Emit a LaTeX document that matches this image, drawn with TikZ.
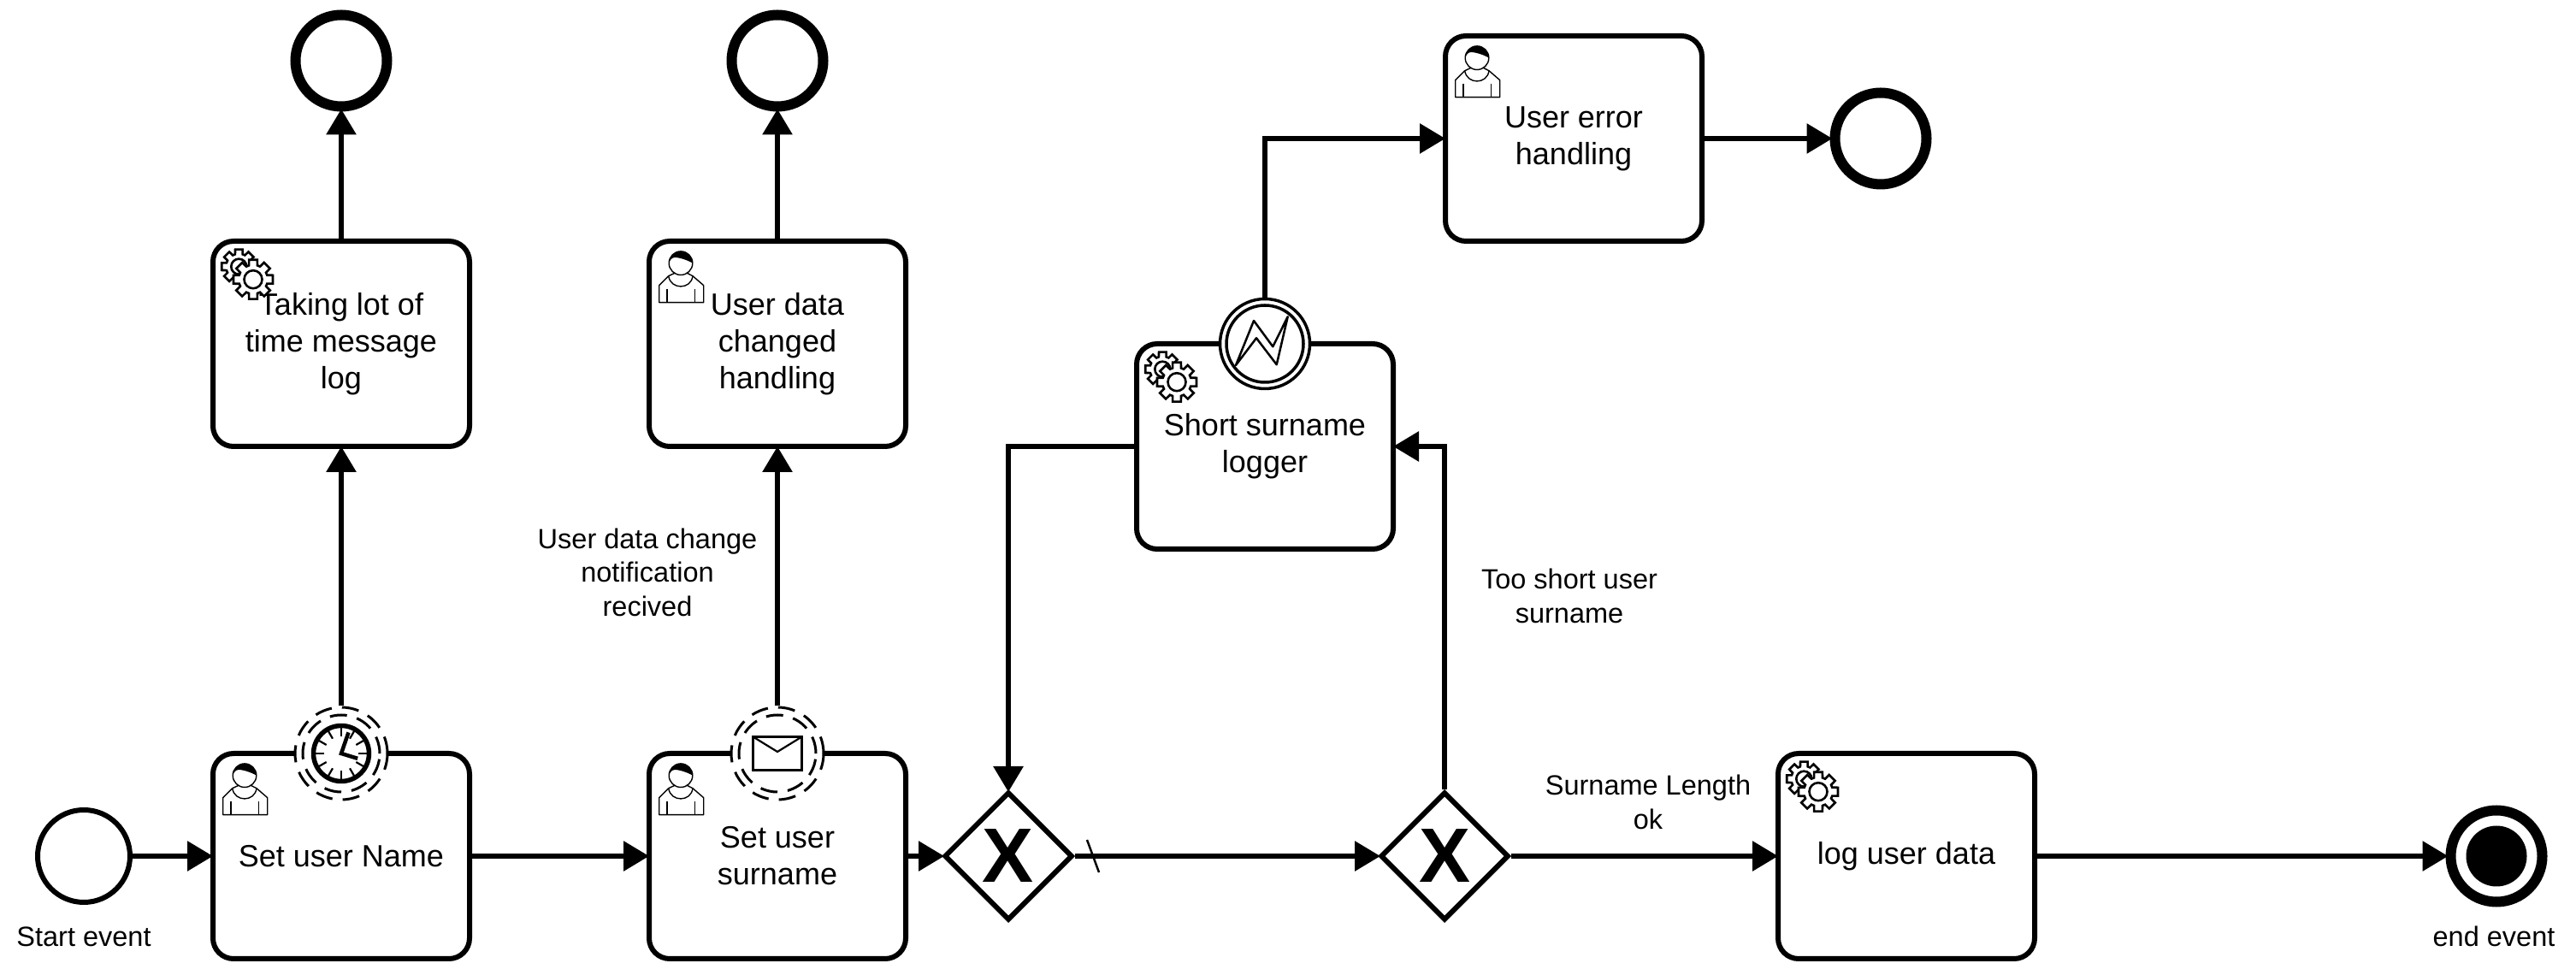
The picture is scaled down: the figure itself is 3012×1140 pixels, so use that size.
\documentclass[tikz,border=0pt]{standalone}
\usepackage{fontspec}
\setmainfont{Liberation Sans}
\usetikzlibrary{shapes.geometric, arrows.meta, positioning}
\tikzstyle{task} = [rectangle, rounded corners=24pt, minimum width=300pt, minimum height=240pt, text centered, align=center, draw=black, line width=6pt, fill=white, font=\fontsize{36}{43}\selectfont]
\tikzstyle{gateway} = [diamond, aspect=1, minimum width=150pt, minimum height=150pt, inner sep=0pt, draw=black, line width=6pt, fill=white, font=\fontsize{90}{90}\selectfont\bfseries]
\tikzstyle{startevent} = [circle, minimum size=108pt, inner sep=0pt, draw=black, line width=6pt, fill=white]
\tikzstyle{stopevent} = [circle, minimum size=107pt, inner sep=0pt, draw=black, line width=12pt, fill=white]
\tikzstyle{dot} = [circle, minimum size=71pt, inner sep=0pt, fill=black]
\tikzstyle{dashring} = [circle, minimum size=108pt, inner sep=0pt, draw=black, line width=3pt, fill=white, dash pattern=on 20pt off 12pt]
\tikzstyle{innerring} = [dashring, minimum size=90pt, fill=none]
\tikzstyle{errorring} = [circle, minimum size=105pt, inner sep=0pt, draw=black, line width=3.5pt, fill=white]
\tikzstyle{flowtext} = [text centered, align=center, font=\fontsize{32.5}{39.5}\selectfont]
\tikzstyle{arrow} = [line width=6pt, shorten >=-3pt, -{Triangle[length=30pt,width=34pt]}]
\tikzset{
  pics/usericon/.style={code={
    \draw [line width=1.4pt, fill=white, line join=round] (33,-40.3) -- (25.7,-43.7) -- (14.7,-54.7) -- (14.7,-74.7) -- (66.7,-74.7) -- (66.7,-54.7) -- (54,-43.7) -- (47.3,-40.3);
    \draw [line width=1.4pt] (25.7,-43.7) .. controls (28,-60) and (52,-60) .. (54,-43.7);
    \draw [line width=1.4pt] (24,-58.7) -- (24,-74.7) (56.7,-58.7) -- (56.7,-74.7);
    \draw [line width=1.4pt, fill=white] (40,-28.7) circle (13.8);
    \fill [black] (26.2,-28.7) arc (180:0:13.8) .. controls (48,-25) and (38,-22) .. (33,-22) .. controls (29,-22) and (27,-26) .. cycle;
  }},
  pics/gearicon/.style={code={
    \foreach \cx/\cy/\ro/\ri/\rh in {33.3/-32.7/20.5/15/9, 50/-47.7/23.5/17/10.5} {
      \draw [line width=2.6pt, fill=white, line join=miter, shift={(\cx,\cy)}] (-12:\ro)
        \foreach \a in {0,45,...,315} { -- ({\a-12}:\ro) -- ({\a+12}:\ro) -- ({\a+17}:\ri) -- ({\a+28}:\ri) } -- cycle;
      \draw [line width=2.6pt, fill=white, shift={(\cx,\cy)}] (0,0) circle (\rh);
    }
  }},
  pics/clockicon/.style={code={
    \draw [line width=5.5pt, fill=white] (0,0) circle (32.5);
    \foreach \a in {0,30,...,330} { \draw [line width=2.2pt] (\a:20) -- (\a:30); }
    \draw [line width=4.5pt] (71:26) -- (0,0) -- (-17:20);
  }},
  pics/mailicon/.style={code={
    \draw [line width=3.2pt] (-28.5,-19.5) rectangle (28.5,19.5);
    \draw [line width=2.2pt] (-28.5,19.5) -- (0,2) -- (28.5,19.5);
  }},
  pics/bolticon/.style={code={
    \draw [line width=2.5pt, line join=round] (-34,-25) -- (-13,27) -- (9.3,-3.3) -- (26.7,31.7) -- (13.7,-24.3) -- (-10,6.7) -- cycle;
  }}
}
\begin{document}
\begin{tikzpicture}[x=1pt, y=1pt, node distance=510pt]
	\useasboundingbox (0,0) rectangle (3012,1140);

	\node (setname) [task] at (399,139) {Set user Name};
	\node (setsurname) [task, right of=setname] {Set user\\surname};
	\node (logmsg) [task, above of=setname, yshift=89pt] {Taking lot of\\time message\\log};
	\node (datahandling) [task, right of=logmsg] {User data\\changed\\handling};
	\node (gwa) [gateway, right of=setsurname, xshift=-240pt] {X};
	\node (gwb) [gateway, right of=gwa] {X};
	\node (logdata) [task, right of=gwb, xshift=30pt] {log user data};
	\node (logger) [task, above of=gwa, xshift=300pt, yshift=-31pt] {Short surname\\logger};
	\node (errhandling) [task, right of=logger, xshift=-149pt, yshift=360pt] {User error\\handling};

	\node (begin) [startevent, left of=setname, xshift=209pt] {};
	\node (stopa) [stopevent, above of=logmsg, yshift=-179pt] {};
	\node (stopb) [stopevent, above of=datahandling, yshift=-179pt] {};
	\node (stopc) [stopevent, right of=errhandling, xshift=-151pt] {};
	\node (stopd) [stopevent, right of=logdata, xshift=180pt] {};
	\node (stopdot) [dot] at (stopd) {};

	\node (beginlabel) [flowtext, below of=begin, yshift=416pt] {Start event};
	\node (stoplabel) [flowtext, below of=stopd, xshift=-3pt, yshift=416pt] {end event};
	\node (datalabel) [flowtext, below of=datahandling, xshift=-152pt, yshift=243pt] {User data change\\notification\\recived};
	\node (shortlabel) [flowtext, right of=logger, xshift=-154pt, yshift=-175pt] {Too short user\\surname};
	\node (oklabel) [flowtext, right of=gwb, xshift=-272pt, yshift=63pt] {Surname Length\\ok};

	\node (timer) [dashring, yshift=-3pt] at (setname.north) {};
	\node (timerin) [innerring] at (timer) {};
	\node (mail) [dashring, yshift=-3pt] at (setsurname.north) {};
	\node (mailin) [innerring] at (mail) {};
	\node (error) [errorring, yshift=-3pt] at (logger.north) {};
	\node (errorin) [errorring, minimum size=90pt] at (error) {};

	% Icons
	\pic at (timer) {clockicon};
	\pic at (mail) {mailicon};
	\pic at (error) {bolticon};
	\pic at (setname.north west) {usericon};
	\pic at (setsurname.north west) {usericon};
	\pic at (datahandling.north west) {usericon};
	\pic at (errhandling.north west) {usericon};
	\pic at (logmsg.north west) {gearicon};
	\pic at (logger.north west) {gearicon};
	\pic at (logdata.north west) {gearicon};

	% Arrows
	\draw [arrow] (begin) -- (setname);
	\draw [arrow] (setname) -- (setsurname);
	\draw [arrow] (setsurname) -- (gwa);
	\draw [arrow] (gwa) -- (gwb);
	\draw [arrow] (gwb) -- (logdata);
	\draw [arrow] (logdata) -- (stopd);
	\draw [arrow] (timer) -- (logmsg);
	\draw [arrow] (logmsg) -- (stopa);
	\draw [arrow] (mail) -- (datahandling);
	\draw [arrow] (datahandling) -- (stopb);
	\draw [arrow] (logger.west) -| (gwa.north);
	\draw [arrow] (gwb.north) |- (logger.east);
	\draw [arrow] (error.north) |- (errhandling.west);
	\draw [arrow] (errhandling) -- (stopc);
	\draw [line width=2.5pt] ([xshift=92pt,yshift=19pt]gwa.center) -- ([xshift=106pt,yshift=-19pt]gwa.center);
\end{tikzpicture}
\end{document}
